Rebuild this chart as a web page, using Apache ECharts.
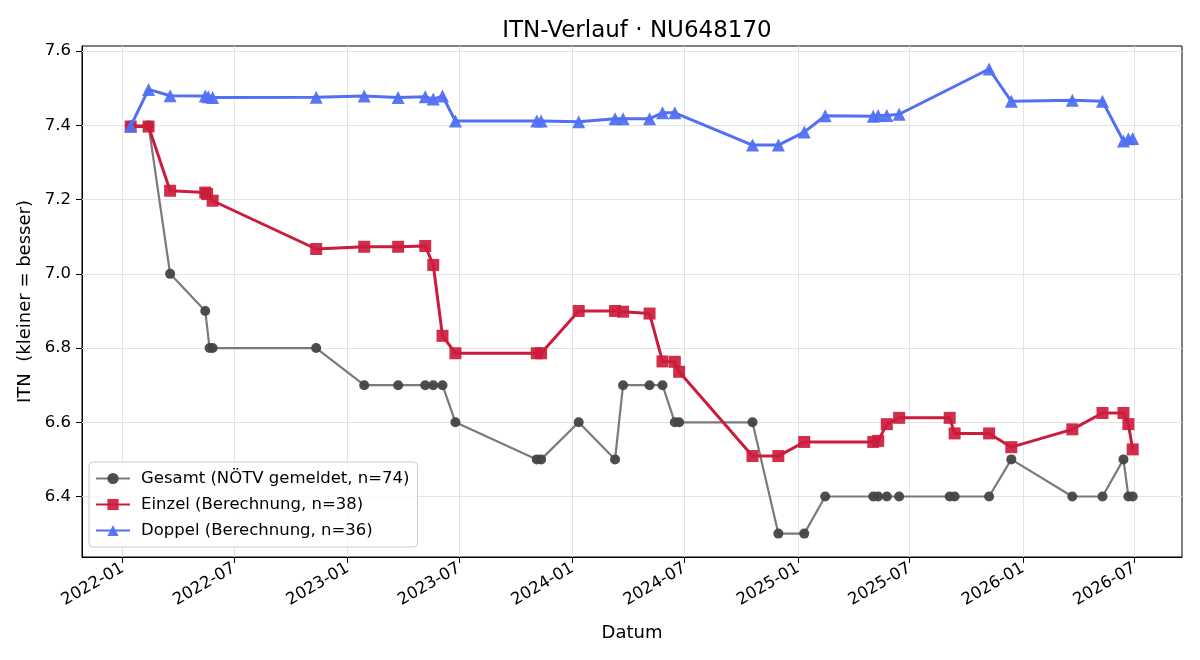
<!DOCTYPE html>
<html>
<head>
<meta charset="utf-8">
<script src="https://cdn.jsdelivr.net/npm/echarts@6/dist/echarts.min.js"></script>
<style>
  html, body { margin: 0; padding: 0; background: #fff; }
  #chart { width: 1200px; height: 660px; }
</style>
</head>
<body>
<div id="chart"></div>
<script>
// Gesamt (NÖTV gemeldet)
const gesamtDates = [
  "2022-01-14", "2022-02-12", "2022-03-19", "2022-05-15", "2022-05-22", "2022-05-27",
  "2022-11-11", "2023-01-28", "2023-03-24", "2023-05-07", "2023-05-20", "2023-06-04",
  "2023-06-25", "2023-11-04", "2023-11-11", "2024-01-11", "2024-03-10", "2024-03-23",
  "2024-05-05", "2024-05-26", "2024-06-15", "2024-06-22", "2024-10-19", "2024-11-30",
  "2025-01-11", "2025-02-14", "2025-05-03", "2025-05-11", "2025-05-25", "2025-06-14",
  "2025-09-04", "2025-09-12", "2025-11-07", "2025-12-13", "2026-03-22", "2026-05-10",
  "2026-06-13", "2026-06-21", "2026-06-28"
]
const gesamtValues = [
  7.4, 7.4, 7.0, 6.9, 6.8, 6.8,
  6.8, 6.7, 6.7, 6.7, 6.7, 6.7,
  6.6, 6.5, 6.5, 6.6, 6.5, 6.7,
  6.7, 6.7, 6.6, 6.6, 6.6, 6.3,
  6.3, 6.4, 6.4, 6.4, 6.4, 6.4,
  6.4, 6.4, 6.4, 6.5, 6.4, 6.4,
  6.5, 6.4, 6.4
]

// Einzel (Berechnung)
const einzelDates = [
  "2022-01-14", "2022-02-12", "2022-03-19", "2022-05-15", "2022-05-18", "2022-05-27",
  "2022-11-11", "2023-01-28", "2023-03-24", "2023-05-07", "2023-05-20", "2023-06-04",
  "2023-06-25", "2023-11-04", "2023-11-11", "2024-01-11", "2024-03-10", "2024-03-23",
  "2024-05-05", "2024-05-26", "2024-06-15", "2024-06-22", "2024-10-19", "2024-11-30",
  "2025-01-11", "2025-05-03", "2025-05-11", "2025-05-25", "2025-06-14", "2025-09-04",
  "2025-09-12", "2025-11-07", "2025-12-13", "2026-03-22", "2026-05-10", "2026-06-13",
  "2026-06-21", "2026-06-28"
]
const einzelValues = [
  7.397, 7.397, 7.224, 7.219, 7.215, 7.197,
  7.067, 7.073, 7.073, 7.075, 7.024, 6.833,
  6.786, 6.786, 6.786, 6.900, 6.900, 6.898,
  6.893, 6.764, 6.763, 6.736, 6.509, 6.509,
  6.547, 6.547, 6.550, 6.595, 6.612, 6.612,
  6.570, 6.570, 6.533, 6.581, 6.625, 6.625,
  6.595, 6.527
]

// Doppel (Berechnung)
const doppelDates = [
  "2022-01-14", "2022-02-12", "2022-03-19", "2022-05-15", "2022-05-20", "2022-05-27",
  "2022-11-11", "2023-01-28", "2023-03-24", "2023-05-07", "2023-05-20", "2023-06-04",
  "2023-06-25", "2023-11-04", "2023-11-11", "2024-01-11", "2024-03-10", "2024-03-23",
  "2024-05-05", "2024-05-26", "2024-06-15", "2024-10-19", "2024-11-30", "2025-01-11",
  "2025-02-14", "2025-05-03", "2025-05-11", "2025-05-25", "2025-06-14", "2025-11-07",
  "2025-12-13", "2026-03-22", "2026-05-10", "2026-06-13", "2026-06-21", "2026-06-28"
]
const doppelValues = [
  7.398, 7.497, 7.480, 7.479, 7.477, 7.475,
  7.476, 7.479, 7.475, 7.477, 7.471, 7.479,
  7.412, 7.412, 7.412, 7.410, 7.418, 7.418,
  7.418, 7.434, 7.434, 7.347, 7.347, 7.382,
  7.426, 7.425, 7.427, 7.427, 7.430, 7.552,
  7.465, 7.468, 7.465, 7.358, 7.364, 7.365
]

const xTickLabels = ["2022-01", "2022-07", "2023-01", "2023-07", "2024-01", "2024-07", "2025-01", "2025-07", "2026-01", "2026-07"]
const yTickValues = [6.4, 6.6, 6.8, 7.0, 7.2, 7.4, 7.6]

const ts = s => Date.parse(s + "T00:00:00Z")
const pairs = (dates, vals) => dates.map((d, i) => [ts(d), vals[i]])
const xTicks = xTickLabels.map(m => ts(m + "-01"))

const font = "DejaVu Sans"
const tickFont = 16.5
const chart = echarts.init(document.getElementById("chart"))

// grid lines at the tick positions (matplotlib style)
const gridLines = xTicks.map(v => ({ xAxis: v })).concat(yTickValues.map(v => ({ yAxis: v })))

chart.setOption({
  animation: false,
  textStyle: { fontFamily: font },
  title: {
    text: "ITN-Verlauf · NU648170",
    left: 632, top: 15, textAlign: "center",
    textStyle: { fontFamily: font, fontSize: 23, fontWeight: "normal", color: "#000" },
  },
  legend: {
    orient: "vertical",
    left: 89, top: 462, z: 20,
    padding: [8, 8, 8, 6],
    itemGap: 9,
    itemWidth: 34, itemHeight: 14,
    backgroundColor: "rgba(255,255,255,0.8)",
    borderColor: "#cccccc", borderWidth: 1, borderRadius: 4,
    textStyle: { fontFamily: font, fontSize: 16.5, color: "#000", padding: [0, 0, 0, 6] },
    data: ["Gesamt (NÖTV gemeldet, n=74)", "Einzel (Berechnung, n=38)", "Doppel (Berechnung, n=36)"],
  },
  grid: { left: 82, right: 18, top: 46, bottom: 103, show: true, borderColor: "#000", borderWidth: 1 },
  xAxis: {
    type: "value",
    min: ts("2021-10-27"), max: ts("2026-09-16"),
    name: "Datum", nameLocation: "middle", nameGap: 67,
    nameTextStyle: { fontFamily: font, fontSize: 18, color: "#000" },
    axisLine: { lineStyle: { color: "#000" } },
    axisTick: { length: 6, lineStyle: { color: "#000" }, customValues: xTicks },
    axisLabel: {
      customValues: xTicks, rotate: 30, margin: 10,
      fontFamily: font, fontSize: tickFont, color: "#000",
      formatter: v => { const d = new Date(v); return d.getUTCFullYear() + "-" + String(d.getUTCMonth() + 1).padStart(2, "0") },
    },
    splitLine: { show: false },
  },
  yAxis: {
    type: "value",
    min: 6.237, max: 7.614,
    name: "ITN  (kleiner = besser)", nameLocation: "middle", nameGap: 47,
    nameTextStyle: { fontFamily: font, fontSize: 18, color: "#000" },
    axisLine: { show: true, lineStyle: { color: "#000" } },
    axisTick: { show: true, length: 6, lineStyle: { color: "#000" }, customValues: yTickValues },
    axisLabel: {
      customValues: yTickValues, margin: 11,
      fontFamily: font, fontSize: tickFont, color: "#000",
      formatter: v => v.toFixed(1),
    },
    splitLine: { show: false },
  },
  series: [
    {
      name: "grid",
      type: "line",
      data: [],
      z: 1,
      markLine: {
        z: 1,
        silent: true, symbol: "none", animation: false,
        label: { show: false },
        lineStyle: { color: "#e4e4e4", width: 1, type: "solid" },
        emphasis: { disabled: true },
        data: gridLines,
      },
    },
    {
      name: "Gesamt (NÖTV gemeldet, n=74)",
      type: "line",
      z: 2,
      data: pairs(gesamtDates, gesamtValues),
      symbol: "circle", symbolSize: 10,
      lineStyle: { color: "#7a7a7a", width: 2.2 },
      itemStyle: { color: "#454545", opacity: 0.95 },
    },
    {
      name: "Einzel (Berechnung, n=38)",
      type: "line",
      z: 3,
      data: pairs(einzelDates, einzelValues),
      symbol: "rect", symbolSize: 12,
      lineStyle: { color: "#cc1c3c", width: 3 },
      itemStyle: { color: "#cc1c3c", opacity: 0.92 },
    },
    {
      name: "Doppel (Berechnung, n=36)",
      type: "line",
      z: 4,
      data: pairs(doppelDates, doppelValues),
      symbol: "triangle", symbolSize: 13,
      lineStyle: { color: "#5170f3", width: 3 },
      itemStyle: { color: "#5170f3", opacity: 0.95 },
    },
  ],
})
</script>
</body>
</html>
